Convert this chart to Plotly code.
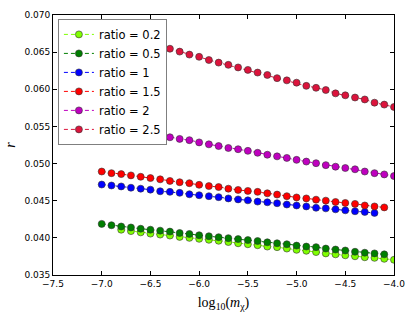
import plotly.graph_objects as go

# x values: log10(m_chi)
x_full = [-7.0, -6.9, -6.8, -6.7, -6.6, -6.5, -6.4, -6.3, -6.2, -6.1, -6.0,
          -5.9, -5.8, -5.7, -5.6, -5.5, -5.4, -5.3, -5.2, -5.1, -5.0,
          -4.9, -4.8, -4.7, -4.6, -4.5, -4.4, -4.3, -4.2, -4.1, -4.0]

# ratio = 0.2 (from -6.8 to -4.0)
x_r02 = x_full[2:31]
r_02 = [0.04110, 0.04091, 0.04074, 0.04057, 0.04044, 0.04031, 0.04013, 0.04000,
        0.03987, 0.03974, 0.03961, 0.03944, 0.03927, 0.03914, 0.03901, 0.03883,
        0.03875, 0.03856, 0.03839, 0.03826, 0.03809, 0.03791, 0.03778, 0.03765,
        0.03752, 0.03739, 0.03731, 0.03718, 0.03705]

# ratio = 0.5 (from -7.0 to -4.1)
x_r05 = x_full[0:30]
r_05 = [0.04188, 0.04170, 0.04153, 0.04140, 0.04123, 0.04110, 0.04097, 0.04084,
        0.04065, 0.04052, 0.04035, 0.04022, 0.04009, 0.03996, 0.03983, 0.03970,
        0.03957, 0.03940, 0.03927, 0.03914, 0.03896, 0.03883, 0.03875, 0.03856,
        0.03843, 0.03830, 0.03813, 0.03800, 0.03791, 0.03778]

# ratio = 1 (from -7.0 to -4.2)
x_r1 = x_full[0:29]
r_1 = [0.04718, 0.04705, 0.04692, 0.04675, 0.04662, 0.04649, 0.04627, 0.04619,
       0.04606, 0.04587, 0.04574, 0.04561, 0.04548, 0.04531, 0.04518, 0.04505,
       0.04488, 0.04479, 0.04466, 0.04449, 0.04436, 0.04423, 0.04405, 0.04397,
       0.04384, 0.04371, 0.04358, 0.04349, 0.04336]

# ratio = 1.5 (from -7.0 to -4.1)
x_r15 = x_full[0:30]
r_15 = [0.04893, 0.04871, 0.04858, 0.04841, 0.04822, 0.04805, 0.04788, 0.04766,
        0.04749, 0.04736, 0.04714, 0.04697, 0.04684, 0.04662, 0.04645, 0.04632,
        0.04619, 0.04600, 0.04583, 0.04561, 0.04544, 0.04531, 0.04514, 0.04501,
        0.04483, 0.04470, 0.04457, 0.04436, 0.04423, 0.04410]

# ratio = 2 (from -7.0 to -4.0)
x_r2 = x_full
r_2 = [0.05520, 0.05507, 0.05484, 0.05462, 0.05436, 0.05410, 0.05384, 0.05354,
       0.05332, 0.05315, 0.05285, 0.05259, 0.05236, 0.05210, 0.05193, 0.05171,
       0.05145, 0.05119, 0.05097, 0.05076, 0.05050, 0.05027, 0.05005, 0.04979,
       0.04958, 0.04940, 0.04923, 0.04893, 0.04871, 0.04854, 0.04832]

# ratio = 2.5 (from -7.0 to -4.0; first points sit behind the legend)
x_r25 = x_full
r_25 = [0.06800, 0.06760, 0.06722, 0.06685, 0.06648, 0.06612,
        0.06577, 0.06546, 0.06507, 0.06467, 0.06437, 0.06394, 0.06359, 0.06329,
        0.06294, 0.06261, 0.06225, 0.06193, 0.06150, 0.06120, 0.06089, 0.06046,
        0.06020, 0.05990, 0.05945, 0.05919, 0.05889, 0.05863, 0.05820, 0.05794,
        0.05762]

labels = ["ratio = 0.2", "ratio = 0.5", "ratio = 1", "ratio = 1.5", "ratio = 2", "ratio = 2.5"]
colors = ["#7FFF00", "#007F00", "#0000FF", "#FF0000", "#BF00BF", "#DC143C"]
series = [(x_r02, r_02), (x_r05, r_05), (x_r1, r_1), (x_r15, r_15), (x_r2, r_2), (x_r25, r_25)]

x_ticks = [-7.5, -7.0, -6.5, -6.0, -5.5, -5.0, -4.5, -4.0]
y_ticks = [0.035, 0.040, 0.045, 0.050, 0.055, 0.060, 0.065, 0.070]

fig = go.Figure()
for (xs, ys), lab, col in zip(series, labels, colors):
    fig.add_trace(go.Scatter(
        x=xs, y=ys, name=lab, mode="lines+markers",
        line=dict(color=col, width=1, dash="4px,3px"),
        marker=dict(symbol="circle", size=7, color=col,
                    line=dict(color="#333333", width=0.6)),
    ))

axis_common = dict(
    showline=True, linecolor="black", linewidth=1, mirror="ticks",
    ticks="inside", ticklen=4, tickwidth=1, tickcolor="black",
    showgrid=False, zeroline=False,
    tickfont=dict(family="DejaVu Sans", size=9, color="black"),
)

fig.update_layout(
    width=415, height=318,
    margin=dict(l=52, r=16, t=10, b=40),
    paper_bgcolor="white", plot_bgcolor="white",
    xaxis=dict(range=[-7.5, -4.0], tickvals=x_ticks, tickformat=".1f",
               title=dict(text="log<sub>10</sub>(<i>m</i><sub>χ</sub>)",
                          font=dict(family="Liberation Serif", size=14, color="black"),
                          standoff=9),
               **axis_common),
    yaxis=dict(range=[0.035, 0.070], tickvals=y_ticks, tickformat=".3f",
               title=dict(text="<i>r</i>",
                          font=dict(family="Liberation Serif", size=14, color="black"),
                          standoff=5),
               **axis_common),
    legend=dict(x=0.0144, y=0.985, xanchor="left", yanchor="top",
                bgcolor="white", bordercolor="#7f7f7f", borderwidth=1,
                font=dict(family="DejaVu Sans", size=11.5, color="black"),
                itemwidth=30, tracegroupgap=0),
    showlegend=True,
)

# remove the default 8px page margin so the figure fills the window exactly
fig.write_html("out.html",
               config={"displayModeBar": False},
               post_script="document.body.style.margin='0px';document.body.style.overflow='hidden';")
